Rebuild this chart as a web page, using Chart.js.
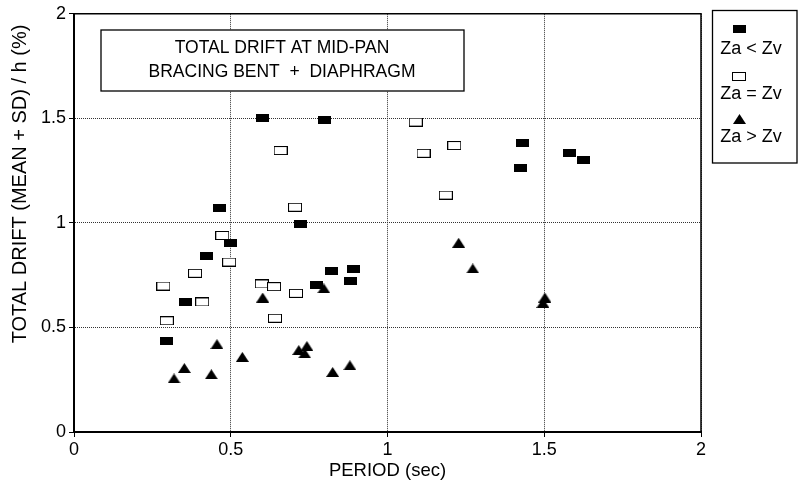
<!DOCTYPE html>
<html>
<head>
<meta charset="utf-8">
<script src="https://cdn.jsdelivr.net/npm/chart.js@4"></script>
<style>
  html, body { margin: 0; padding: 0; background: #fff; }
  #chart { display: block; }
</style>
</head>
<body>
<canvas id="chart" width="800" height="487"></canvas>
<script>
// period (sec) and drift (%), one pair of arrays per group
const lessPeriod = [0.60, 0.80, 0.465, 0.723, 0.499, 0.422, 0.355, 0.296, 0.82, 0.893, 0.881, 0.774, 1.432, 1.424, 1.582, 1.626];
const lessDrift  = [1.50, 1.494, 1.07, 0.994, 0.905, 0.843, 0.622, 0.435, 0.77, 0.778, 0.722, 0.705, 1.381, 1.262, 1.333, 1.299];

const equalPeriod = [0.659, 0.705, 0.473, 0.495, 0.386, 0.285, 0.409, 0.296, 0.599, 0.638, 0.708, 0.641, 1.09, 1.213, 1.115, 1.186];
const equalDrift  = [1.346, 1.075, 0.94, 0.813, 0.759, 0.698, 0.622, 0.532, 0.708, 0.695, 0.663, 0.544, 1.482, 1.37, 1.333, 1.133];

const morePeriod = [0.602, 0.456, 0.537, 0.352, 0.319, 0.438, 0.717, 0.743, 0.736, 0.797, 0.825, 0.88, 1.227, 1.272, 1.502, 1.496];
const moreDrift  = [0.643, 0.42, 0.359, 0.306, 0.256, 0.276, 0.392, 0.411, 0.376, 0.687, 0.287, 0.319, 0.905, 0.782, 0.643, 0.617];

const seriesLabels = ['Za < Zv', 'Za = Zv', 'Za > Zv'];
const titleLines = ['TOTAL DRIFT AT MID-PAN', 'BRACING BENT  +  DIAPHRAGM'];
const xTitle = 'PERIOD (sec)';
const yTitle = 'TOTAL DRIFT (MEAN + SD) / h (%)';

const SANS = "'Liberation Sans', Arial, sans-serif";

function marker(w, h, draw) {
  const c = document.createElement('canvas');
  c.width = w;
  c.height = h;
  draw(c.getContext('2d'));
  return c;
}

const filledBox = marker(13, 8, (g) => {
  g.fillStyle = '#000';
  g.fillRect(0, 0, 13, 8);
});
const openBox = marker(14, 9, (g) => {
  g.fillStyle = '#fff';
  g.fillRect(0, 0, 14, 9);
  g.strokeStyle = '#000';
  g.lineWidth = 1;
  g.strokeRect(0.5, 0.5, 13, 8);
});
const triangle = marker(13, 10, (g) => {
  g.fillStyle = '#000';
  g.beginPath();
  g.moveTo(6.5, 0);
  g.lineTo(13, 10);
  g.lineTo(0, 10);
  g.closePath();
  g.fill();
});
const markers = [filledBox, openBox, triangle];

const toPoints = (xs, ys) => xs.map((x, i) => ({ x, y: ys[i] }));

// frame, title box, legend box and rotated y title
const decorations = {
  id: 'decorations',
  afterDraw(chart) {
    const { ctx, chartArea: a } = chart;
    ctx.save();
    ctx.strokeStyle = '#000';
    ctx.lineWidth = 1.5;
    ctx.beginPath();
    ctx.moveTo(a.left, a.top);
    ctx.lineTo(a.right, a.top);
    ctx.lineTo(a.right, a.bottom);
    ctx.stroke();

    // title box
    ctx.lineWidth = 1.3;
    ctx.fillStyle = '#fff';
    ctx.fillRect(101, 30, 363, 61);
    ctx.strokeRect(101, 30, 363, 61);
    ctx.fillStyle = '#000';
    ctx.font = `17.5px ${SANS}`;
    ctx.textAlign = 'center';
    ctx.textBaseline = 'middle';
    ctx.fillText(titleLines[0], 282, 48);
    ctx.fillText(titleLines[1], 282, 72);

    // legend box
    ctx.strokeRect(712.5, 10.5, 84.5, 152.5);
    const rowY = [29, 76, 119];
    const textY = [49, 94, 137];
    ctx.font = `18px ${SANS}`;
    markers.forEach((m, i) => {
      ctx.drawImage(m, Math.round(739 - m.width / 2), Math.round(rowY[i] - m.height / 2));
      ctx.fillText(seriesLabels[i], 751, textY[i]);
    });

    // y title
    ctx.translate(20, 184);
    ctx.rotate(-Math.PI / 2);
    ctx.font = `20px ${SANS}`;
    ctx.fillText(yTitle, 0, 0);
    ctx.restore();
  },
};

const axisCommon = {
  type: 'linear',
  min: 0,
  max: 2,
  border: { display: true, color: '#000', width: 2, dash: [1, 1] },
  grid: {
    color: '#333',
    lineWidth: 1,
    tickColor: '#000',
    tickLength: 5,
    tickBorderDash: [],
    tickWidth: 1,
  },
};

const tickLabel = (v) => String(v);

new Chart(document.getElementById('chart'), {
  type: 'scatter',
  data: {
    datasets: [
      { label: seriesLabels[0], data: toPoints(lessPeriod, lessDrift), pointStyle: filledBox },
      { label: seriesLabels[1], data: toPoints(equalPeriod, equalDrift), pointStyle: openBox },
      { label: seriesLabels[2], data: toPoints(morePeriod, moreDrift), pointStyle: triangle },
    ],
  },
  options: {
    responsive: false,
    animation: false,
    layout: { padding: { top: 12, right: 99, left: 0, bottom: 0 } },
    plugins: { legend: { display: false }, tooltip: { enabled: false } },
    scales: {
      x: {
        ...axisCommon,
        ticks: { stepSize: 0.5, color: '#000', padding: 2, callback: tickLabel, font: { family: SANS, size: 18 } },
        title: {
          display: true,
          text: xTitle,
          color: '#000',
          font: { family: SANS, size: 18.5 },
          padding: { top: 0, bottom: 5 },
        },
        afterFit(scale) { scale.height = 55; },
      },
      y: {
        ...axisCommon,
        ticks: { stepSize: 0.5, color: '#000', padding: 3, callback: tickLabel, font: { family: SANS, size: 18 } },
        afterFit(scale) { scale.width = 74; },
      },
    },
  },
  plugins: [decorations],
});
</script>
</body>
</html>
